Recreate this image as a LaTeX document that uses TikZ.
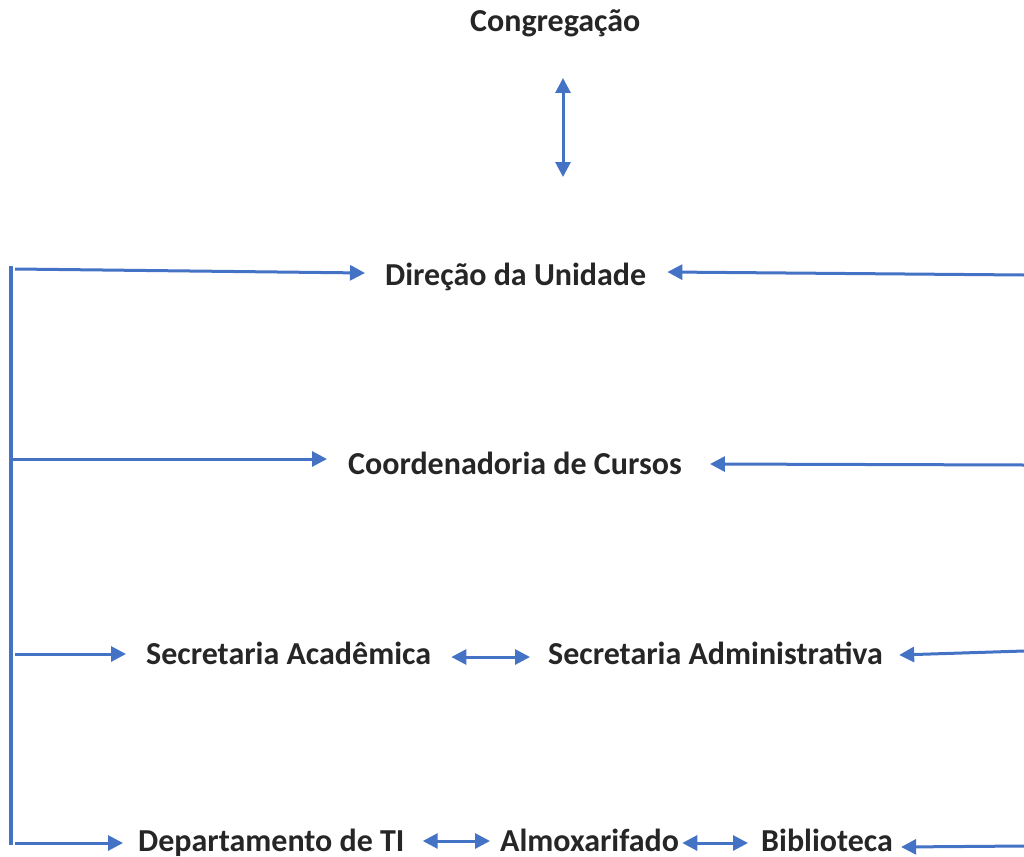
\documentclass[tikz,border=0pt]{standalone}
\usepackage{fontspec}
\setmainfont{Carlito}
\usetikzlibrary{arrows.meta,calc}
\definecolor{lineblue}{HTML}{4472C4}
\definecolor{txtgray}{HTML}{262626}
\begin{document}
\begin{tikzpicture}[x=1pt,y=-1pt,
  lbl/.style={font=\fontsize{32}{38}\selectfont\bfseries, text=txtgray, inner sep=0pt, anchor=base west},
  conn/.style={draw=lineblue, line width=3pt, -{Triangle[length=15pt,width=15pt]}},
  dconn/.style={draw=lineblue, line width=3pt, {Triangle[length=15pt,width=15pt]}-{Triangle[length=15pt,width=15pt]}},
  bracket/.style={draw=lineblue, line width=3.5pt}]
\useasboundingbox (0,0) rectangle (1024,856);

% labels
\node[lbl] (cong)   at (470,32)  {Congregação};
\node[lbl] (dir)    at (385,285) {Direção da Unidade};
\node[lbl] (coord)  at (348,474) {Coordenadoria de Cursos};
\node[lbl] (secac)  at (146,664) {Secretaria Acadêmica};
\node[lbl] (secadm) at (548,664) {Secretaria Administrativa};
\node[lbl] (dept)   at (138,851) {Departamento de TI};
\node[lbl] (almox)  at (500,851) {Almoxarifado};
\node[lbl] (bib)    at (761,851) {Biblioteca};

% bracket coordinates
\coordinate (bt) at (11,266);
\coordinate (bb) at (11,845);
\coordinate (l1) at (15,269);
\coordinate (l2) at (11,459);
\coordinate (l3) at (15,654);
\coordinate (l4) at (15,843);
\coordinate (r1) at (1024,275);
\coordinate (r2) at (1024,465);
\coordinate (r3) at (1024,651);
\coordinate (r4) at (1024,846);

\draw[bracket] (bt) -- (bb);

% vertical double arrow
\draw[dconn] ($(cong.base west)+(93,46)$) -- ($(cong.base west)+(93,145)$);

% left arrows
\draw[conn] (l1) -- ($(dir.base west)+(-20,-12)$);
\draw[conn] (l2) -- ($(coord.base west)+(-21,-15)$);
\draw[conn] (l3) -- ($(secac.base west)+(-20,-10)$);
\draw[conn] (l4) -- ($(dept.base west)+(-15,-8)$);

% right arrows
\draw[conn] (r1) -- ($(dir.base east)+(21,-13)$);
\draw[conn] (r2) -- ($(coord.base east)+(28,-10)$);
\draw[conn] (r3) -- ($(secadm.base east)+(16,-9)$);
\draw[conn] (r4) -- ($(bib.base east)+(8,-4)$);

% horizontal double arrows
\draw[dconn] ($(secac.base east)+(20,-7)$) -- ($(secadm.base west)+(-18,-7)$);
\draw[dconn] ($(dept.base east)+(18,-10)$) -- ($(almox.base west)+(-10,-10)$);
\draw[dconn] ($(almox.base east)+(3,-8)$) -- ($(bib.base west)+(-13,-8)$);
\end{tikzpicture}
\end{document}
